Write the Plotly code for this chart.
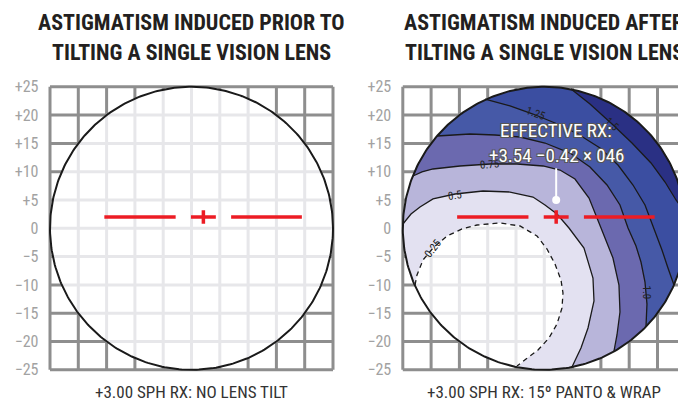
import numpy as np
import plotly.graph_objects as go

# ------------------------------------------------------------------ data
TICK_VALUES = [25, 20, 15, 10, 5, 0, -5, -10, -15, -20, -25]
TICK_LABELS = ["+25", "+20", "+15", "+10", "+5", "0", "−5", "−10", "−15", "−20", "−25"]
GRID_LINES = [-25, -20, -15, -10, -5, 0, 5, 10, 15, 20, 25]
LENS_RADIUS = 25

TITLE_LEFT = ["ASTIGMATISM INDUCED PRIOR TO", "TILTING A SINGLE VISION LENS"]
TITLE_RIGHT = ["ASTIGMATISM INDUCED AFTER", "TILTING A SINGLE VISION LENS"]
CAPTION_LEFT = "+3.00 SPH RX: NO LENS TILT"
CAPTION_RIGHT = "+3.00 SPH RX: 15º PANTO &amp; WRAP"

# fitting cross / layout lines (same on both lenses)
FIT_Y = 2.0
FIT_LINE_LEFT_X = [-15.4, -2.8]
FIT_LINE_RIGHT_X = [7.0, 19.5]
FIT_CROSS_X = [-0.1, 4.3]
FIT_CROSS_Y = [0.8, 3.2]
FIT_CENTER_X = 2.1

# effective Rx callout
RX_POINT = (2.1, 5.0)
RX_POINTER_TOP = 10.6
RX_LINE1 = "EFFECTIVE RX:"
RX_LINE2 = "+3.54 −0.42 × 046"

# contour lines of induced astigmatism (D)
CONTOUR_LEVELS = [0.25, 0.5, 0.75, 1.0, 1.25, 1.5]
C025_X = [-22.84, -22.49, -21.43, -19.66, -17.19, -14.54, -11.89, -7.83, -4.29, -1.29,
          0.48, 1.89, 2.95, 3.30, 3.13, 2.24, 0.83, -1.11, -3.23, -4.82]
C025_Y = [-10.02, -8.25, -5.60, -3.48, -1.36, -0.12, 0.58, 0.94, 0.41, -1.36,
          -3.66, -6.31, -9.13, -11.43, -14.08, -16.91, -19.38, -21.50, -23.09, -24.33]
C050_X = [-24.98, -23.55, -21.96, -19.66, -15.77, -10.83, -6.06, -2.00, 0.12, 2.24,
          4.36, 7.01, 8.60, 8.78, 7.72, 6.48, 4.89]
C050_Y = [0.76, 2.53, 3.76, 5.18, 6.06, 6.59, 6.41, 5.53, 4.12, 2.53,
          0.05, -3.48, -8.78, -12.84, -17.61, -21.15, -24.51]
C075_X = [-23.20, -21.61, -19.66, -14.89, -9.59, -4.82, -0.23, 2.77, 5.42, 7.90,
          10.02, 12.13, 13.19, 13.37, 12.84, 12.31]
C075_Y = [9.24, 9.95, 10.48, 11.01, 11.36, 11.36, 11.01, 10.30, 8.71, 5.35,
          0.05, -5.25, -10.02, -14.79, -18.85, -21.68]
C100_X = [-18.96, -16.66, -13.13, -8.71, -4.29, 0.12, 4.54, 8.07, 11.08, 13.37,
          14.79, 16.20, 17.08, 17.79, 18.14, 17.97]
C100_Y = [16.31, 16.48, 16.66, 16.48, 16.13, 15.07, 13.30, 10.83, 7.65, 4.12,
          0.05, -3.13, -5.96, -9.50, -13.39, -17.26]
C125_X = [-10.48, -6.06, -2.00, 1.89, 5.95, 9.84, 13.02, 15.67, 17.79, 19.38,
          20.79, 21.85, 22.91]
C125_Y = [22.84, 21.61, 20.19, 18.60, 16.66, 14.19, 11.18, 7.65, 4.12, 0.05,
          -3.83, -7.01, -10.02]
C150_X = [4.72, 8.07, 11.96, 15.49, 18.85, 21.33, 23.27, 24.68]
C150_Y = [24.61, 21.96, 18.42, 15.07, 11.54, 8.18, 5.00, 3.06]
CONTOURS_X = [C025_X, C050_X, C075_X, C100_X, C125_X, C150_X]
CONTOURS_Y = [C025_Y, C050_Y, C075_Y, C100_Y, C125_Y, C150_Y]

LABEL_TEXT = ["0.25", "0.5", "0.75", "1.25", "1.5", "1.0"]
LABEL_X = [-19.7, -15.8, -9.6, -1.6, 12.0, 18.1]
LABEL_Y = [-3.5, 5.8, 11.2, 20.3, 18.4, -11.3]
LABEL_ANGLE = [-52, -8, -5, 20, 42, 90]

# ------------------------------------------------------------------ styles
FILL_COLORS = ["#e3e1f1", "#b8b5da", "#6b69af", "#4659a7", "#3b4ea1", "#2a3084"]
DARK_GRID = "#8e8e8e"
LIGHT_GRID = "#e7e7ea"
RED = "#ec1c24"
NARROW = "Liberation Sans Narrow, Roboto Condensed, DejaVu Sans Condensed, Arial Narrow, sans-serif"

# page body has an 8px margin, so the figure is drawn 8px in from the window corner
OFF = 8
W, H = 686 - OFF, 405 - OFF
S = 5.66                    # px per unit
CY = 228.3 - OFF            # px of y = 0
LCX, RCX = 191.5 - OFF, 544.3 - OFF
PAD = 0.45
LIMIT = 25

fig = go.Figure()


def grid_traces(xa, ya):
    gx, gy = [], []
    for k in GRID_LINES:
        gx += [k, k, None, -LIMIT, LIMIT, None]
        gy += [-LIMIT, LIMIT, None, k, k, None]
    fig.add_trace(go.Scatter(x=gx, y=gy, mode="lines", line=dict(color=DARK_GRID, width=3),
                             hoverinfo="skip", showlegend=False, xaxis=xa, yaxis=ya))
    t = np.linspace(0, 2 * np.pi, 361)
    fig.add_trace(go.Scatter(x=LENS_RADIUS * np.cos(t), y=LENS_RADIUS * np.sin(t), mode="lines",
                             fill="toself", fillcolor="white", line=dict(width=0, color="white"),
                             hoverinfo="skip", showlegend=False, xaxis=xa, yaxis=ya))
    lx, ly = [], []
    for k in GRID_LINES:
        if abs(k) >= LENS_RADIUS:
            continue
        h = float(np.sqrt(LENS_RADIUS ** 2 - k ** 2))
        lx += [k, k, None, -h, h, None]
        ly += [-h, h, None, k, k, None]
    fig.add_trace(go.Scatter(x=lx, y=ly, mode="lines", line=dict(color=LIGHT_GRID, width=3),
                             hoverinfo="skip", showlegend=False, xaxis=xa, yaxis=ya))


def outline(xa, ya):
    t = np.linspace(0, 2 * np.pi, 361)
    fig.add_trace(go.Scatter(x=LENS_RADIUS * np.cos(t), y=LENS_RADIUS * np.sin(t), mode="lines",
                             line=dict(color="#1a1a1a", width=2),
                             hoverinfo="skip", showlegend=False, xaxis=xa, yaxis=ya))


def fitting_cross(xa, ya):
    fx = FIT_LINE_LEFT_X + [None] + FIT_LINE_RIGHT_X + [None] + FIT_CROSS_X + [None, FIT_CENTER_X, FIT_CENTER_X]
    fy = [FIT_Y, FIT_Y, None, FIT_Y, FIT_Y, None, FIT_Y, FIT_Y, None] + FIT_CROSS_Y
    fig.add_trace(go.Scatter(x=fx, y=fy, mode="lines", line=dict(color=RED, width=3.5),
                             hoverinfo="skip", showlegend=False, xaxis=xa, yaxis=ya))


# ---- left lens
grid_traces("x", "y")
outline("x", "y")
fitting_cross("x", "y")

# ---- right lens
grid_traces("x2", "y2")
for cx, cy, col in zip(CONTOURS_X, CONTOURS_Y, FILL_COLORS):
    a_end = np.arctan2(cy[-1], cx[-1])
    a_start = np.arctan2(cy[0], cx[0])
    if a_start <= a_end:
        a_start += 2 * np.pi
    arc = np.linspace(a_end, a_start, 200)
    px = list(cx) + list(LENS_RADIUS * np.cos(arc))
    py = list(cy) + list(LENS_RADIUS * np.sin(arc))
    fig.add_trace(go.Scatter(x=px, y=py, mode="lines", fill="toself", fillcolor=col,
                             line=dict(width=0, color=col), hoverinfo="skip", showlegend=False,
                             xaxis="x2", yaxis="y2"))
for i, (cx, cy) in enumerate(zip(CONTOURS_X, CONTOURS_Y)):
    fig.add_trace(go.Scatter(x=cx, y=cy, mode="lines",
                             line=dict(color="#1a1a1a", width=1.3, dash="5px,4px" if i == 0 else "solid"),
                             hoverinfo="skip", showlegend=False, xaxis="x2", yaxis="y2"))
outline("x2", "y2")
fitting_cross("x2", "y2")
fig.add_trace(go.Scatter(x=[RX_POINT[0], RX_POINT[0]], y=[RX_POINT[1], RX_POINTER_TOP], mode="lines",
                         line=dict(color="white", width=2), hoverinfo="skip", showlegend=False,
                         xaxis="x2", yaxis="y2"))
fig.add_trace(go.Scatter(x=[RX_POINT[0]], y=[RX_POINT[1]], mode="markers",
                         marker=dict(color="white", size=8), hoverinfo="skip", showlegend=False,
                         xaxis="x2", yaxis="y2"))

annotations = []
for t, x, y, a in zip(LABEL_TEXT, LABEL_X, LABEL_Y, LABEL_ANGLE):
    annotations.append(dict(text=t, x=x, y=y, xref="x2", yref="y2", showarrow=False, textangle=a,
                            font=dict(family=NARROW, size=11, color="#222")))
shadow = "1px 1px 0 #555, -1px -1px 0 #555, 1px -1px 0 #555, -1px 1px 0 #555"
annotations.append(dict(text=RX_LINE1, x=2.1, y=17.2, xref="x2", yref="y2", showarrow=False,
                        font=dict(family=NARROW, size=19, color="white", shadow=shadow)))
annotations.append(dict(text=RX_LINE2, x=2.1, y=12.8, xref="x2", yref="y2", showarrow=False,
                        font=dict(family=NARROW, size=19, color="white", shadow=shadow)))

# titles & captions
title_font = dict(family=NARROW, size=22, color="#231f20", weight="bold")
for lines, cxp in ((TITLE_LEFT, LCX), (TITLE_RIGHT, RCX)):
    for j, line in enumerate(lines):
        annotations.append(dict(text=line, x=cxp / W, y=1 - (22.5 - OFF + 30 * j) / H, xref="paper",
                                yref="paper", showarrow=False, xanchor="center", yanchor="middle",
                                font=title_font))
for cap, cxp in ((CAPTION_LEFT, LCX), (CAPTION_RIGHT, RCX)):
    annotations.append(dict(text=cap, x=cxp / W, y=1 - (392 - OFF) / H, xref="paper", yref="paper",
                            showarrow=False, xanchor="center", yanchor="middle",
                            font=dict(family=NARROW, size=17, color="#333")))

half = (LENS_RADIUS + PAD) * S
ydom = [(H - (CY + half)) / H, (H - (CY - half)) / H]
axis_common = dict(showgrid=False, zeroline=False, showline=False, fixedrange=True, automargin=False)
yaxis_common = dict(axis_common, range=[-LENS_RADIUS - PAD, LENS_RADIUS + PAD], domain=ydom,
                    tickvals=TICK_VALUES, ticktext=TICK_LABELS, ticks="", ticklabelstandoff=8,
                    tickfont=dict(family=NARROW, size=16, color="#a2a2a2"))

fig.update_layout(
    width=W, height=H, margin=dict(l=0, r=0, t=0, b=0, autoexpand=False),
    paper_bgcolor="white", plot_bgcolor="white", showlegend=False,
    xaxis=dict(axis_common, domain=[(LCX - half) / W, (LCX + half) / W],
               range=[-LENS_RADIUS - PAD, LENS_RADIUS + PAD], showticklabels=False),
    yaxis=dict(yaxis_common, anchor="x"),
    xaxis2=dict(axis_common, domain=[(RCX - half) / W, 1.0],
                range=[-LENS_RADIUS - PAD, (W - RCX) / S], showticklabels=False, anchor="y2"),
    yaxis2=dict(yaxis_common, anchor="x2"),
    annotations=annotations,
)

fig.write_html("out.html")
